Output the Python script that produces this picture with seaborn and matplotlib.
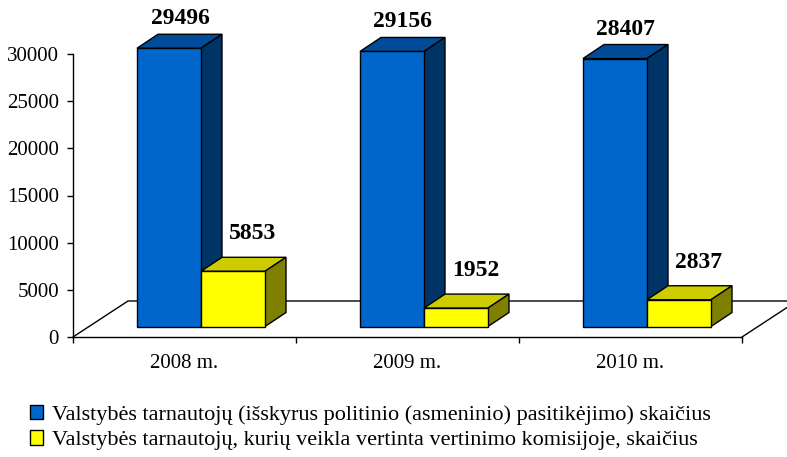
import matplotlib
matplotlib.use("Agg")
import matplotlib.pyplot as plt
from matplotlib.patches import Polygon, Patch
import pandas as pd
import seaborn as sns

# Data
years = ["2008 m.", "2009 m.", "2010 m."]
civil_servants = [29496, 29156, 28407]
evaluated = [5853, 1952, 2837]
series_names = [
    "Valstybės tarnautojų (išskyrus politinio (asmeninio) pasitikėjimo) skaičius",
    "Valstybės tarnautojų, kurių veikla vertinta vertinimo komisijoje, skaičius",
]

front_colors = ["#0066CC", "#FFFF00"]
top_colors = ["#004C99", "#CCCC00"]
side_colors = ["#003366", "#808000"]

df = pd.DataFrame({
    "year": years * 2,
    "value": civil_servants + evaluated,
    "series": [series_names[0]] * len(years) + [series_names[1]] * len(years),
})

sns.set_style("ticks")
plt.rcParams["font.family"] = ["Liberation Serif", "DejaVu Serif"]
plt.rcParams["text.color"] = "black"

fig = plt.figure(figsize=(7.87, 4.57), dpi=100)
ax = fig.add_axes([73 / 787, 120 / 457, 669 / 787, 283 / 457])

sns.barplot(data=df, x="year", y="value", hue="series", palette=front_colors,
            saturation=1, width=0.574, errorbar=None, edgecolor="black",
            linewidth=1, legend=False, ax=ax)
ax.set_xlim(-0.5, 2.5)
ax.set_ylim(0, 30000)

# pixel sizes in data units, for the fake 3D look
px_x = 3 / 669
px_y = 30000 / 283
shift_x, shift_y = 16.5 * px_x, 10.5 * px_y
depth_x, depth_y = 21 * px_x, 14 * px_y
floor_x, floor_y = 55 * px_x, 36 * px_y

# floor outline
ax.plot([-0.5, -0.5 + floor_x, 2.5 + floor_x + 1], [0, floor_y, floor_y],
        color="black", lw=1, clip_on=False, zorder=1)
ax.plot([2.5, 2.5 + floor_x], [0, floor_y], color="black", lw=1, clip_on=False, zorder=1)

bars = list(ax.patches)
for k, bar in enumerate(bars):
    s = k // len(years)  # seaborn draws one hue level after the other
    h = bar.get_height()
    bar.set_x(bar.get_x() + shift_x)
    bar.set_y(shift_y)
    bar.set_clip_on(False)
    bar.set_zorder(3 + 2 * s)
    x0 = bar.get_x()
    x1 = x0 + bar.get_width()
    y0 = shift_y
    y1 = shift_y + h
    top = Polygon([(x0, y1), (x1, y1), (x1 + depth_x, y1 + depth_y), (x0 + depth_x, y1 + depth_y)],
                  closed=True, facecolor=top_colors[s], edgecolor="black", lw=1,
                  clip_on=False, zorder=2 + 2 * s)
    side = Polygon([(x1, y0), (x1 + depth_x, y0 + depth_y), (x1 + depth_x, y1 + depth_y), (x1, y1)],
                   closed=True, facecolor=side_colors[s], edgecolor="black", lw=1,
                   clip_on=False, zorder=2 + 2 * s)
    ax.add_patch(top)
    ax.add_patch(side)
    label_dx = [11, 20][s] * px_x
    label_dy = [5, 13][s] * px_y
    ax.text((x0 + x1) / 2 + label_dx, y1 + depth_y + label_dy, f"{h:.0f}",
            ha="center", va="bottom", fontsize=17, fontweight="bold",
            color="black", zorder=10)

sns.despine(ax=ax)
for side_name in ["left", "bottom"]:
    ax.spines[side_name].set_color("black")
    ax.spines[side_name].set_linewidth(1)

ax.set_xlabel("")
ax.set_ylabel("")
ax.set_yticks(range(0, 30001, 5000))
ax.tick_params(axis="y", direction="out", length=4, width=1, pad=6, labelsize=15, colors="black")
ax.set_xticks([-0.5, 0.5, 1.5, 2.5], minor=True)
ax.tick_params(axis="x", which="major", length=0, pad=12, labelsize=15, colors="black")
ax.tick_params(axis="x", which="minor", direction="out", length=4, width=1, colors="black")

handles = [Patch(facecolor=c, edgecolor="black", lw=1) for c in front_colors]
fig.legend(handles=handles, labels=series_names, loc="upper left",
           bbox_to_anchor=(30 / 787, 1 - 405 / 457), frameon=False, fontsize=16,
           handlelength=0.6, handleheight=0.6, handletextpad=0.4,
           labelspacing=0.25, borderpad=0, borderaxespad=0)

fig.savefig("out.png", dpi=100)
